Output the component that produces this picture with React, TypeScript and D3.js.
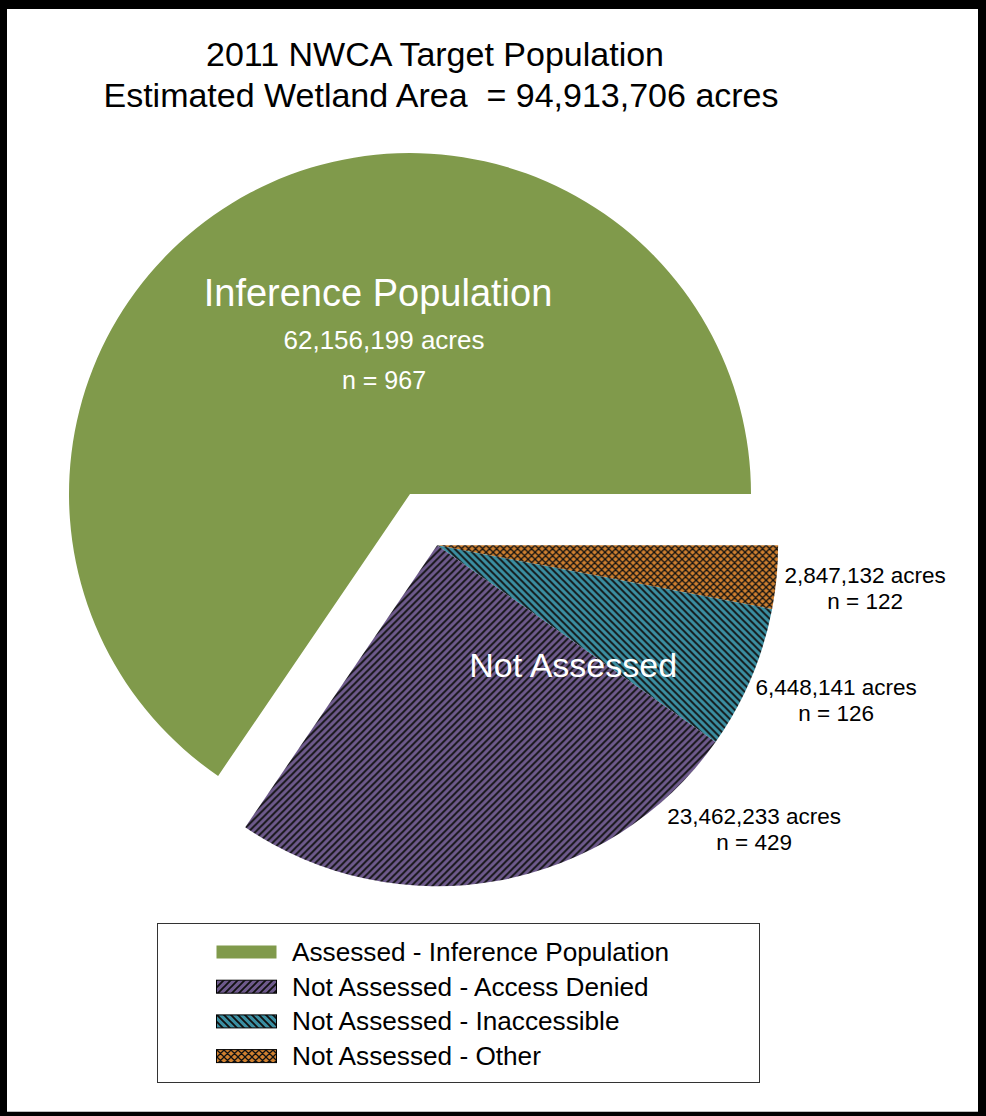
import React from "react";
import * as d3 from "d3";

// ---- data ----
const categories = [
  "Not Assessed - Other",
  "Not Assessed - Inaccessible",
  "Not Assessed - Access Denied",
  "Assessed - Inference Population",
];
const acres = [2847132, 6448141, 23462233, 62156199];
const sampleSizes = [122, 126, 429, 967];
const legendOrder = [3, 2, 1, 0];
const titleLines = ["2011 NWCA Target Population", "Estimated Wetland Area  = 94,913,706 acres"];
const bigLabels = ["", "", "", "Inference Population"];
const groupLabel = "Not Assessed";

// ---- layout / style ----
const W = 986;
const H = 1116;
const FONT = "'Liberation Sans', Arial, Helvetica, sans-serif";
const fills = ["url(#patOther)", "url(#patInacc)", "url(#patDenied)", "#809A4B"];
const center = { x: 410, y: 494 };
const R = 341;
const explode = 58;
// label anchors relative to exploded center (for small slices) – text layout
const outsideLabelPos: [number, number][] = [
  [428, 38],
  [399, 150],
  [317, 279],
];
const P = 7; // hatch pattern period

export default function App() {
  const fmt = d3.format(",");
  const pie = d3
    .pie<number>()
    .sort(null)
    .value((d) => d)
    .startAngle(Math.PI / 2)
    .endAngle(Math.PI / 2 + 2 * Math.PI);
  const arcs = pie(acres);
  const arc = d3.arc<d3.PieArcDatum<number>>().innerRadius(0).outerRadius(R);

  const naStart = arcs[0].startAngle;
  const naEnd = arcs[2].endAngle;
  const mid = (naStart + naEnd) / 2;
  const off = { x: Math.sin(mid) * explode, y: -Math.cos(mid) * explode };
  const naCenter = { x: center.x + off.x, y: center.y + off.y };

  const green = arcs[3];
  const gl = { x: center.x - 32, y: center.y - 188 };

  const legendX = 157;
  const legendY = 923;
  const legendW = 602;
  const legendH = 159;
  const rowH = 34.7;

  const fwd = `M-1,1 L1,-1 M0,${P} L${P},0 M${P - 1},${P + 1} L${P + 1},${P - 1}`;
  const back = `M-1,${P - 1} L1,${P + 1} M0,0 L${P},${P} M${P - 1},-1 L${P + 1},1`;

  return (
    <svg width={W} height={H} style={{ display: "block", position: "absolute", left: 0, top: 0 }}>
      <defs>
        <pattern id="patDenied" patternUnits="userSpaceOnUse" width={P} height={P}>
          <rect width={P} height={P} fill="#6E5A8C" />
          <path d={fwd} stroke="#111" strokeWidth={1.9} />
        </pattern>
        <pattern id="patInacc" patternUnits="userSpaceOnUse" width={P} height={P}>
          <rect width={P} height={P} fill="#3B8FA2" />
          <path d={back} stroke="#111" strokeWidth={1.9} />
        </pattern>
        <pattern id="patOther" patternUnits="userSpaceOnUse" width={P} height={P}>
          <rect width={P} height={P} fill="#D0802F" />
          <path d={fwd + " " + back} stroke="#111" strokeWidth={1.3} />
        </pattern>
      </defs>

      {/* frame */}
      <rect x={0} y={0} width={W} height={H} fill="#000" />
      <rect x={7} y={9} width={971} height={1102} fill="#fff" />
      <line x1={7} x2={978} y1={1111.5} y2={1111.5} stroke="#bbb" strokeWidth={1} />

      {/* title */}
      <g fontFamily={FONT} fontSize={34} fill="#000" textAnchor="middle">
        <text x={435} y={66}>{titleLines[0]}</text>
        <text x={441} y={107} style={{ whiteSpace: "pre" }}>
          {titleLines[1]}
        </text>
      </g>

      {/* green slice */}
      <path d={arc(green) || ""} transform={`translate(${center.x},${center.y})`} fill={fills[3]} />

      {/* not-assessed slices */}
      <g transform={`translate(${naCenter.x},${naCenter.y})`}>
        {arcs.slice(0, 3).map((a, i) => (
          <path key={i} d={arc(a) || ""} fill={fills[i]} />
        ))}
      </g>

      {/* inside labels */}
      <g fontFamily={FONT} fill="#fff" textAnchor="middle">
        <text x={gl.x} y={gl.y} fontSize={38}>
          {bigLabels[3]}
        </text>
        <text x={gl.x + 6} y={gl.y + 43} fontSize={26}>
          {fmt(acres[3])} acres
        </text>
        <text x={gl.x + 6} y={gl.y + 83} fontSize={25}>
          n = {sampleSizes[3]}
        </text>
        <text x={naCenter.x + 136} y={naCenter.y + 132} fontSize={34}>
          {groupLabel}
        </text>
      </g>

      {/* outside labels */}
      <g fontFamily={FONT} fill="#000" textAnchor="middle" fontSize={22.5}>
        {outsideLabelPos.map(([dx, dy], i) => (
          <g key={i}>
            <text x={naCenter.x + dx} y={naCenter.y + dy}>
              {fmt(acres[i])} acres
            </text>
            <text x={naCenter.x + dx} y={naCenter.y + dy + 26}>
              n = {sampleSizes[i]}
            </text>
          </g>
        ))}
      </g>

      {/* legend */}
      <rect x={legendX + 0.5} y={legendY + 0.5} width={legendW} height={legendH} fill="#fff" stroke="#333" strokeWidth={1} />
      <g fontFamily={FONT} fontSize={26.2} fill="#000">
        {legendOrder.map((ci, r) => {
          const cy = legendY + 29 + r * rowH;
          return (
            <g key={ci}>
              <rect
                x={216.5}
                y={cy - 6.5}
                width={60}
                height={13}
                fill={fills[ci]}
                stroke={ci === 3 ? "none" : "#000"}
                strokeWidth={1}
              />
              <text x={292} y={cy + 9}>
                {categories[ci]}
              </text>
            </g>
          );
        })}
      </g>
    </svg>
  );
}
